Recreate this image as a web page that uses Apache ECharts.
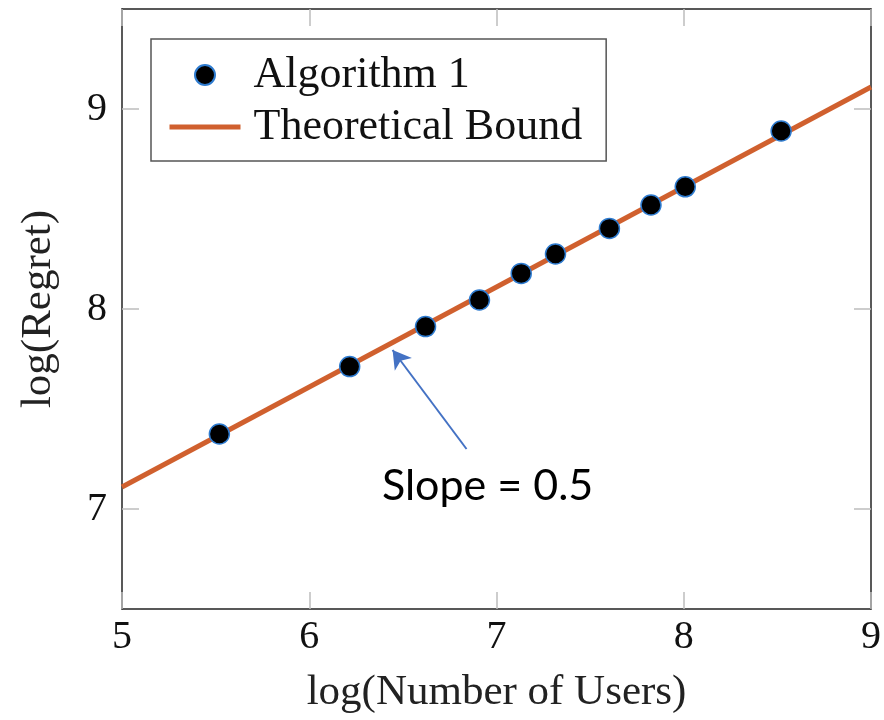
<!DOCTYPE html>
<html>
<head>
<meta charset="utf-8">
<script src="https://cdn.jsdelivr.net/npm/echarts@6/dist/echarts.min.js"></script>
<style>html,body{margin:0;padding:0;background:#fff;}#c{width:884px;height:720px;}</style>
</head>
<body>
<div id="c"></div>
<script>
// ---- data ----
const algoX = [5.52, 6.216, 6.621, 6.909, 7.132, 7.315, 7.603, 7.825, 8.008, 8.52];
const algoY = [7.375, 7.712, 7.912, 8.045, 8.178, 8.275, 8.403, 8.52, 8.611, 8.89];
const boundX = [5, 9];
const boundY = [7.11, 9.11];
const xTicks = [5, 6, 7, 8, 9];
const yTicks = [7, 8, 9];
const arrowFrom = [6.84, 7.30];
const arrowTo = [6.445, 7.795];
const seriesNames = ['Algorithm 1', 'Theoretical Bound'];
const annotationText = 'Slope = 0.5';

const serif = '"Liberation Serif", "DejaVu Serif", serif';
const tickGray = '#bdbdbd';
const frame = '#222';
const boundColor = '#D0602E';

const chart = echarts.init(document.getElementById('c'), null, {renderer: 'canvas'});

const xBase = {
  type: 'value', min: 5, max: 9, interval: 1,
  splitLine: {show: false},
  axisLine: {show: true, onZero: false, lineStyle: {color: frame, width: 1.5}},
  axisTick: {show: true, inside: true, length: 17, customValues: xTicks, lineStyle: {color: tickGray, width: 1.5}}
};
const yBase = {
  type: 'value', min: 6.5, max: 9.5, interval: 0.5,
  splitLine: {show: false},
  axisLine: {show: true, onZero: false, lineStyle: {color: frame, width: 1.5}},
  axisTick: {show: true, inside: true, length: 17, customValues: yTicks, lineStyle: {color: tickGray, width: 1.5}}
};

chart.setOption({
  animation: false,
  backgroundColor: '#fff',
  grid: {left: 122, right: 12, top: 9, bottom: 111, containLabel: false},
  xAxis: [
    Object.assign({}, xBase, {
      position: 'bottom',
      name: 'log(Number of Users)', nameLocation: 'middle', nameGap: 62,
      nameTextStyle: {fontFamily: serif, fontSize: 43, color: '#222'},
      axisLabel: {show: true, customValues: xTicks, margin: 8, fontFamily: serif, fontSize: 40, color: '#111'}
    }),
    Object.assign({}, xBase, {position: 'top', axisLabel: {show: false}})
  ],
  yAxis: [
    Object.assign({}, yBase, {
      position: 'left',
      name: 'log(Regret)', nameLocation: 'middle', nameGap: 62,
      nameTextStyle: {fontFamily: serif, fontSize: 43, color: '#222'},
      axisLabel: {show: true, customValues: yTicks, margin: 15, fontFamily: serif, fontSize: 40, color: '#111'}
    }),
    Object.assign({}, yBase, {position: 'right', axisLabel: {show: false}})
  ],
  legend: {
    data: [
      {name: seriesNames[0]},
      {name: seriesNames[1], itemStyle: {opacity: 0}, lineStyle: {width: 5, color: boundColor}}
    ],
    orient: 'vertical',
    left: 151, top: 39,
    padding: [14, 24, 12, 16],
    itemGap: 8,
    itemWidth: 71, itemHeight: 20,
    borderColor: '#555', borderWidth: 1.5,
    backgroundColor: '#fff',
    textStyle: {fontFamily: serif, fontSize: 44, lineHeight: 44, color: '#111', padding: [0, 0, 0, 8]}
  },
  series: [
    {
      name: seriesNames[1], type: 'line',
      data: boundX.map((x, i) => [x, boundY[i]]),
      symbol: 'none', z: 2,
      lineStyle: {color: boundColor, width: 5},
      itemStyle: {color: boundColor},
      markLine: {
        silent: true, symbol: ['none', 'arrow'], symbolSize: [16, 18],
        label: {show: false},
        lineStyle: {color: '#4472C4', width: 2, type: 'solid'},
        data: [[{coord: arrowFrom}, {coord: arrowTo}]]
      }
    },
    {
      name: seriesNames[0], type: 'scatter',
      data: algoX.map((x, i) => [x, algoY[i]]),
      symbol: 'circle', symbolSize: 20, z: 3,
      itemStyle: {color: '#000', opacity: 1, borderColor: '#2e7bcf', borderWidth: 1.5}
    }
  ],
  graphic: [{
    type: 'text', left: 382, top: 465,
    style: {text: annotationText, fontFamily: 'Lato, "Open Sans", sans-serif', fontSize: 43, fill: '#000'}
  }]
});
</script>
</body>
</html>
